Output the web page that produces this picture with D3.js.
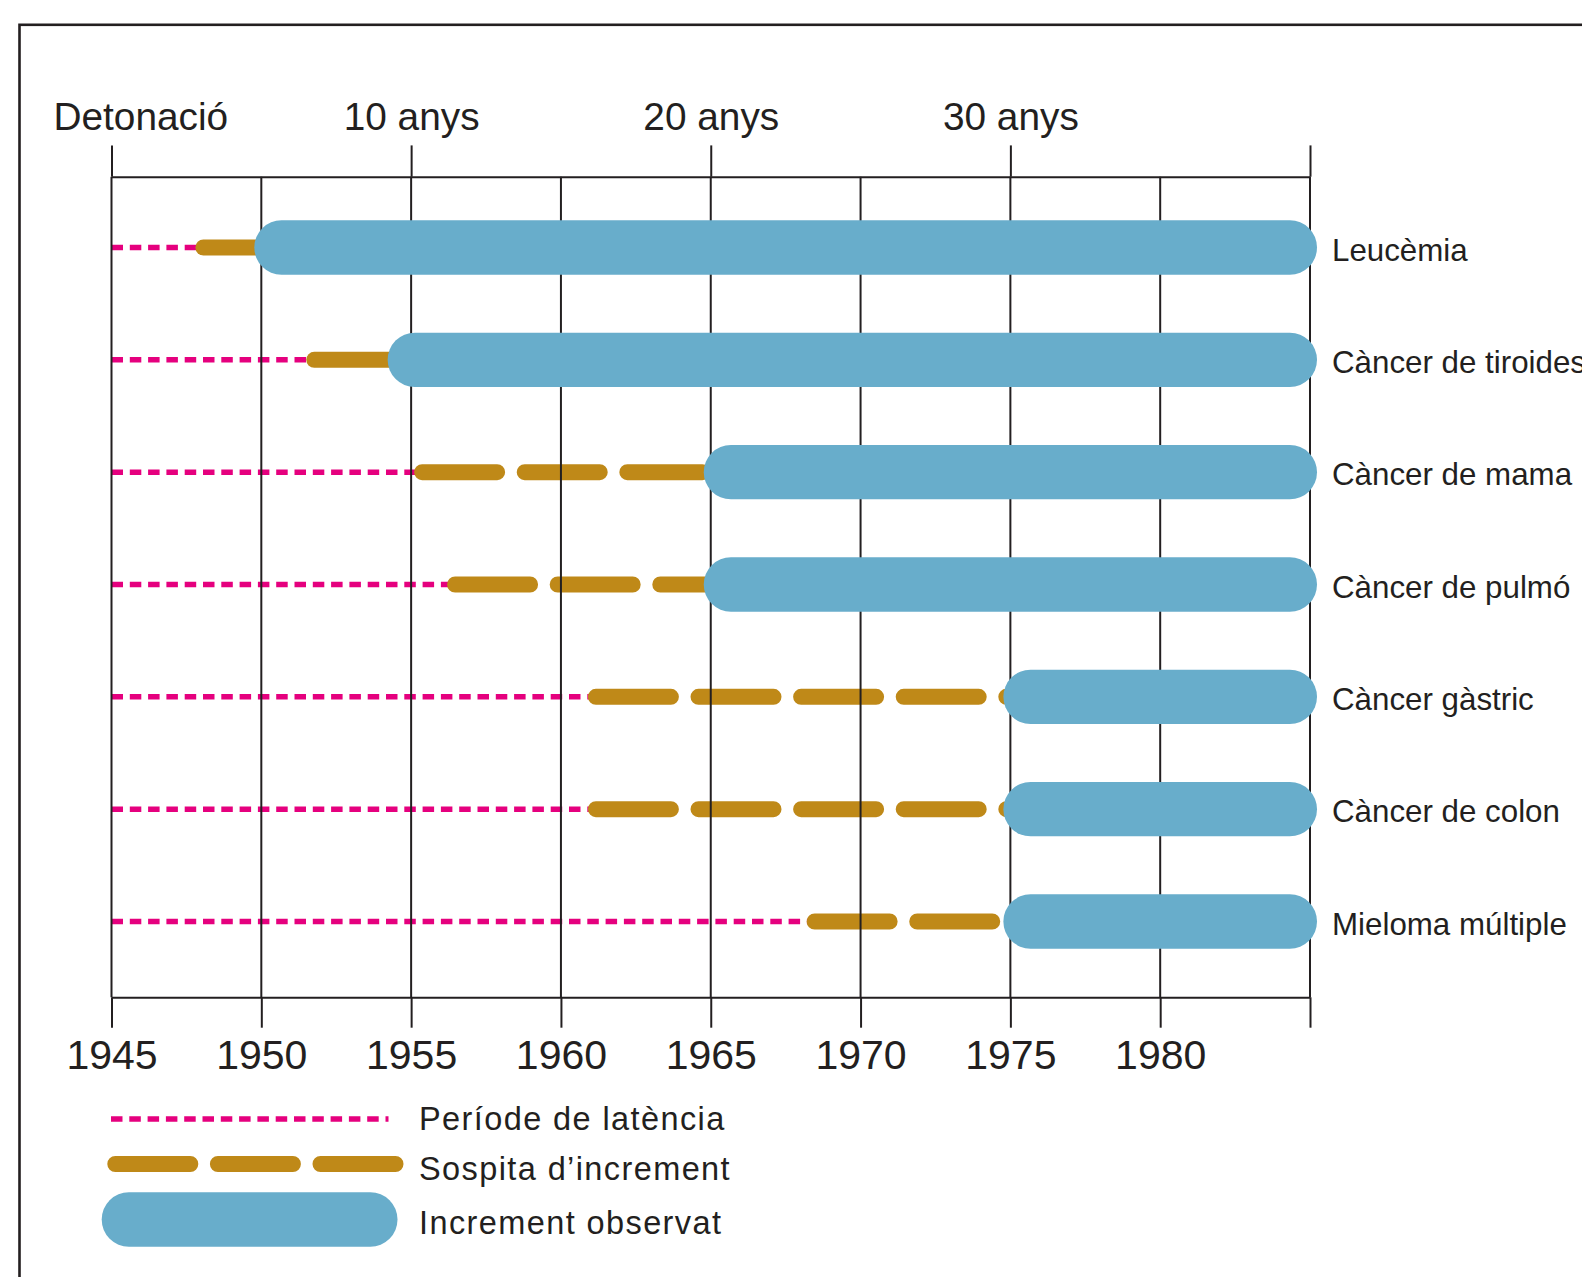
<!DOCTYPE html>
<html>
<head>
<meta charset="utf-8">
<script src="https://cdn.jsdelivr.net/npm/d3@7"></script>
<style>
    body { margin: 0; background: #fff; }
    svg { display: block; font-family: "Liberation Sans", Arial, Helvetica, sans-serif; }
</style>
</head>
<body>
<svg id="chart"></svg>
<script>
    // rows, top to bottom
    const categories = ["Leucèmia", "Càncer de tiroides", "Càncer de mama", "Càncer de pulmó", "Càncer gàstric", "Càncer de colon", "Mieloma múltiple"];
    const latencyStart = [1945, 1945, 1945, 1945, 1945, 1945, 1945];
    const suspicionStart = [1947.8, 1951.5, 1955.1, 1956.2, 1960.9, 1960.9, 1968.2];
    const observedStart = [1950, 1954.45, 1965, 1965, 1975, 1975, 1975];
    const observedEnd = [1985, 1985, 1985, 1985, 1985, 1985, 1985];

    const yearTicks = [1945, 1950, 1955, 1960, 1965, 1970, 1975, 1980, 1985];
    const yearLabels = ["1945", "1950", "1955", "1960", "1965", "1970", "1975", "1980", ""];
    const sinceTicks = [1945, 1955, 1965, 1975, 1985];
    const sinceLabels = ["Detonació", "10 anys", "20 anys", "30 anys", ""];
    const legendLabels = ["Període de latència", "Sospita d’increment", "Increment observat"];

    const ink = "#231f20";
    const pink = "#e5007e";
    const gold = "#bf8918";
    const blue = "#68adcb";

    const width = 1582;
    const height = 1277;
    const topY = 176.7;
    const bottomY = 997.3;

    const svg = d3.select("#chart")
        .attr("width", width)
        .attr("height", height);

    // frame (runs off the right and bottom edges)
    svg.append("rect")
        .attr("x", 19.5).attr("y", 24.8)
        .attr("width", 2000).attr("height", 2000)
        .attr("fill", "none")
        .attr("stroke", ink)
        .attr("stroke-width", 2.6);

    const x = d3.scaleLinear()
        .domain([1945, 1985])
        .range([111.5, 1310]);

    const y = d3.scalePoint()
        .domain(categories)
        .range([247.5, 921.5]);

    const rows = categories.map((c, i) => ({
        name: c,
        latency: latencyStart[i],
        suspicion: suspicionStart[i],
        start: observedStart[i],
        end: observedEnd[i]
    }));

    // latency period (dotted pink)
    svg.append("g")
        .selectAll("line")
        .data(rows)
        .join("line")
        .attr("x1", d => x(d.latency))
        .attr("x2", d => x(d.suspicion) + 8)
        .attr("y1", d => y(d.name))
        .attr("y2", d => y(d.name))
        .attr("stroke", pink)
        .attr("stroke-width", 5.5)
        .attr("stroke-dasharray", "11.5 6.8");

    // suspected increase (gold dashes)
    svg.append("g")
        .selectAll("line")
        .data(rows)
        .join("line")
        .attr("x1", d => x(d.suspicion) + 8)
        .attr("x2", d => x(d.start))
        .attr("y1", d => y(d.name))
        .attr("y2", d => y(d.name))
        .attr("stroke", gold)
        .attr("stroke-width", 16)
        .attr("stroke-linecap", "round")
        .attr("stroke-dasharray", "75 27.6");

    // grid lines
    svg.append("g")
        .selectAll("line")
        .data(yearTicks)
        .join("line")
        .attr("x1", d => x(d))
        .attr("x2", d => x(d))
        .attr("y1", topY)
        .attr("y2", bottomY)
        .attr("stroke", ink)
        .attr("stroke-width", 2);

    // top axis: years since detonation
    const topAxis = svg.append("g")
        .attr("transform", `translate(0,${topY})`)
        .call(d3.axisTop(x)
            .tickValues(sinceTicks)
            .tickSize(31.3)
            .tickSizeOuter(0)
            .tickPadding(15.4)
            .tickFormat((d, i) => sinceLabels[i]));

    topAxis.selectAll("text")
        .attr("font-size", 38.8)
        .filter((d, i) => i === 0)
        .attr("text-anchor", "start")
        .attr("x", -58.5);

    // bottom axis: calendar years
    const bottomAxis = svg.append("g")
        .attr("transform", `translate(0,${bottomY})`)
        .call(d3.axisBottom(x)
            .tickValues(yearTicks)
            .tickSize(30.4)
            .tickSizeOuter(0)
            .tickPadding(12)
            .tickFormat((d, i) => yearLabels[i]));

    bottomAxis.selectAll("text")
        .attr("font-size", 41);

    [topAxis, bottomAxis].forEach(g => {
        g.attr("color", ink).attr("font-family", null);
        g.selectAll("path, line").attr("stroke-width", 2);
    });

    // observed increase (blue bars, over the grid)
    svg.append("g")
        .selectAll("rect")
        .data(rows)
        .join("rect")
        .attr("x", d => x(d.start) - 7)
        .attr("width", d => x(d.end) - x(d.start) + 14)
        .attr("y", d => y(d.name) - 27.2)
        .attr("height", 54.4)
        .attr("rx", 27.2)
        .attr("fill", blue);

    // row labels
    svg.append("g")
        .attr("fill", ink)
        .attr("font-size", 31.3)
        .selectAll("text")
        .data(rows)
        .join("text")
        .attr("x", 1332)
        .attr("y", d => y(d.name) + 13)
        .text(d => d.name);

    // legend
    const legend = svg.append("g");

    legend.append("line")
        .attr("x1", 111).attr("x2", 388.5)
        .attr("y1", 1119).attr("y2", 1119)
        .attr("stroke", pink)
        .attr("stroke-width", 5.5)
        .attr("stroke-dasharray", "11.5 6.8");

    legend.append("line")
        .attr("x1", 115.3).attr("x2", 395.5)
        .attr("y1", 1164).attr("y2", 1164)
        .attr("stroke", gold)
        .attr("stroke-width", 16)
        .attr("stroke-linecap", "round")
        .attr("stroke-dasharray", "75 27.6");

    legend.append("rect")
        .attr("x", 101.7).attr("y", 1192.3)
        .attr("width", 295.8).attr("height", 54.4)
        .attr("rx", 27.2)
        .attr("fill", blue);

    const legendBaselines = [1130, 1180, 1234];

    legend.selectAll("text")
        .data(legendLabels)
        .join("text")
        .attr("x", 419)
        .attr("y", (d, i) => legendBaselines[i])
        .attr("font-size", 32.5)
        .attr("letter-spacing", 1.4)
        .attr("fill", ink)
        .text(d => d);
</script>
</body>
</html>
